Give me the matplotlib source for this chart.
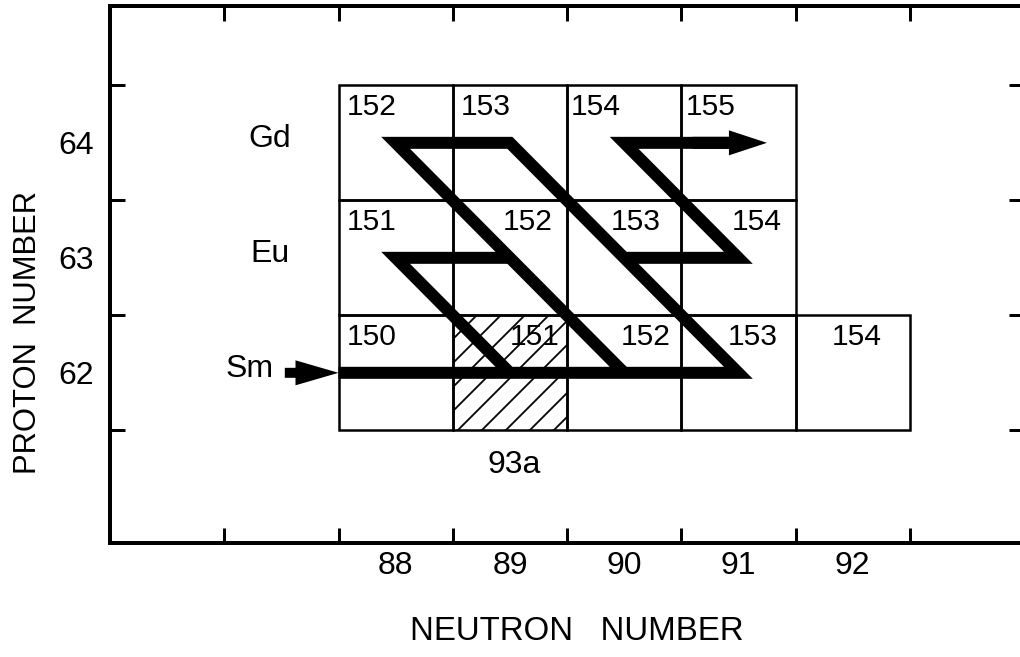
import numpy as np
import matplotlib
matplotlib.use("Agg")
import matplotlib.pyplot as plt
from matplotlib import font_manager
from matplotlib.patches import Rectangle


# ============================================================
# 1. DATA  (chart of nuclides, Sm - Eu - Gd region)
# ============================================================

# cells per element row: neutron numbers and mass numbers
SM_Z = 62
SM_N = [88, 89, 90, 91, 92]
SM_A = [150, 151, 152, 153, 154]

EU_Z = 63
EU_N = [88, 89, 90, 91]
EU_A = [151, 152, 153, 154]

GD_Z = 64
GD_N = [88, 89, 90, 91]
GD_A = [152, 153, 154, 155]

ELEMENTS = ["Sm", "Eu", "Gd"]
ELEMENT_Z = [62, 63, 64]

# long-lived branching nucleus (hatched) and its half-life label
BRANCH_N, BRANCH_Z = 89, 62
BRANCH_LABEL = "93a"

# reaction path, as (N, Z) nodes
PATH_MAIN_N = [87.5, 91, 89, 88, 90]
PATH_MAIN_Z = [62, 62, 64, 64, 62]
PATH_EU_N = [89, 88, 89]
PATH_EU_Z = [63, 63, 62]
PATH_GD_N = [90, 91, 90, 91]
PATH_GD_Z = [63, 63, 64, 64]

# arrows: entry into Sm, exit along Gd
ARROW_IN = (87.03, 87.5, 62)
ARROW_OUT = (90.6, 91.25, 64)

X_TICK_LABELS = [88, 89, 90, 91, 92]
Y_TICK_LABELS = [62, 63, 64]


# ============================================================
# 2. STYLE
# ============================================================

names = {f.name for f in font_manager.fontManager.ttflist}
if "Liberation Sans Narrow" in names:
    FONT, FS, FS_EL, FS_TICK = "Liberation Sans Narrow", 34, 36, 35
else:
    FONT, FS, FS_EL, FS_TICK = "Liberation Sans", 30, 32, 32

plt.rcParams["font.family"] = [FONT, "DejaVu Sans"]
plt.rcParams["hatch.linewidth"] = 1.8

DPI = 72  # 1 pt == 1 px, hatch cell = 72 px
PX = 114.25  # pixels per neutron-number unit
PY = 115.0   # pixels per proton-number unit

# label offsets inside each cell (px from cell left edge)
LABEL_DX = {
    62: [8, 57, 54, 46, 36],
    63: [8, 50, 44, 50],
    64: [8, 8, 4, 4],
}
LABEL_DY = 8


# ============================================================
# 3. FIGURE
# ============================================================

fig = plt.figure(figsize=(1020 / DPI, 657 / DPI), dpi=DPI)
ax = fig.add_axes([110 / 1020, 114 / 657, 914 / 1020, 537 / 657])
ax.set_xlim(85.5, 93.5)
ax.set_ylim(60.52, 65.19)

rows = [(SM_Z, SM_N, SM_A), (EU_Z, EU_N, EU_A), (GD_Z, GD_N, GD_A)]
for z, ns, As in rows:
    for i, (n, a) in enumerate(zip(ns, As)):
        hatched = (n == BRANCH_N and z == BRANCH_Z)
        ax.add_patch(Rectangle(
            (n - 0.5, z - 0.5), 1, 1, fill=False, edgecolor="black",
            lw=2.5, hatch="/" if hatched else None, zorder=2,
        ))
        ax.text(
            n - 0.5 + LABEL_DX[z][i] / PX, z + 0.5 - LABEL_DY / PY, str(a),
            ha="left", va="top", fontsize=FS, zorder=3,
        )

for el, z in zip(ELEMENTS, ELEMENT_Z):
    x = 86.72 if el == "Sm" else 86.9
    ax.text(x, z + 0.03, el, ha="center", va="center", fontsize=FS_EL)

ax.text(BRANCH_N + 0.04, BRANCH_Z - 0.8, BRANCH_LABEL,
        ha="center", va="center", fontsize=FS_EL)

# reaction path
for xs, ys in [(PATH_MAIN_N, PATH_MAIN_Z), (PATH_EU_N, PATH_EU_Z),
               (PATH_GD_N, PATH_GD_Z)]:
    ax.plot(xs, ys, color="black", lw=12, solid_joinstyle="miter",
            solid_capstyle="butt", zorder=4)

x0, x1, z = ARROW_IN
ax.annotate("", xy=(x1, z), xytext=(x0, z), arrowprops=dict(
    arrowstyle="simple,head_length=43,head_width=25,tail_width=10",
    mutation_scale=1, fc="black", ec="black", lw=0, shrinkA=0, shrinkB=0),
    zorder=5)
x0, x1, z = ARROW_OUT
ax.annotate("", xy=(x1, z), xytext=(x0, z), arrowprops=dict(
    arrowstyle="simple,head_length=38,head_width=25,tail_width=12",
    mutation_scale=1, fc="black", ec="black", lw=0, shrinkA=0, shrinkB=0),
    zorder=5)

# axes, ticks
for sp in ax.spines.values():
    sp.set_linewidth(4)

ax.set_xticks(np.arange(86.5, 93.0, 1.0))
ax.set_yticks(np.arange(61.5, 65.0, 1.0))
ax.set_xticks(X_TICK_LABELS, minor=True)
ax.set_xticklabels([str(v) for v in X_TICK_LABELS], minor=True)
ax.set_yticks(Y_TICK_LABELS, minor=True)
ax.set_yticklabels([str(v) for v in Y_TICK_LABELS], minor=True)
ax.tick_params(which="major", direction="in", length=15, width=3,
               top=True, right=True, labelbottom=False, labelleft=False)
ax.tick_params(which="minor", length=0, labelsize=FS_TICK)
ax.tick_params(axis="x", which="minor", pad=8)
ax.tick_params(axis="y", which="minor", pad=16)

fig.text(577 / 1020, 1 - 632 / 657, "NEUTRON   NUMBER",
         ha="center", va="center", fontsize=33)
fig.text(28 / 1020, 1 - 332 / 657, "PROTON  NUMBER",
         ha="center", va="center", rotation=90, fontsize=31)

fig.savefig("out.png", dpi=DPI)
